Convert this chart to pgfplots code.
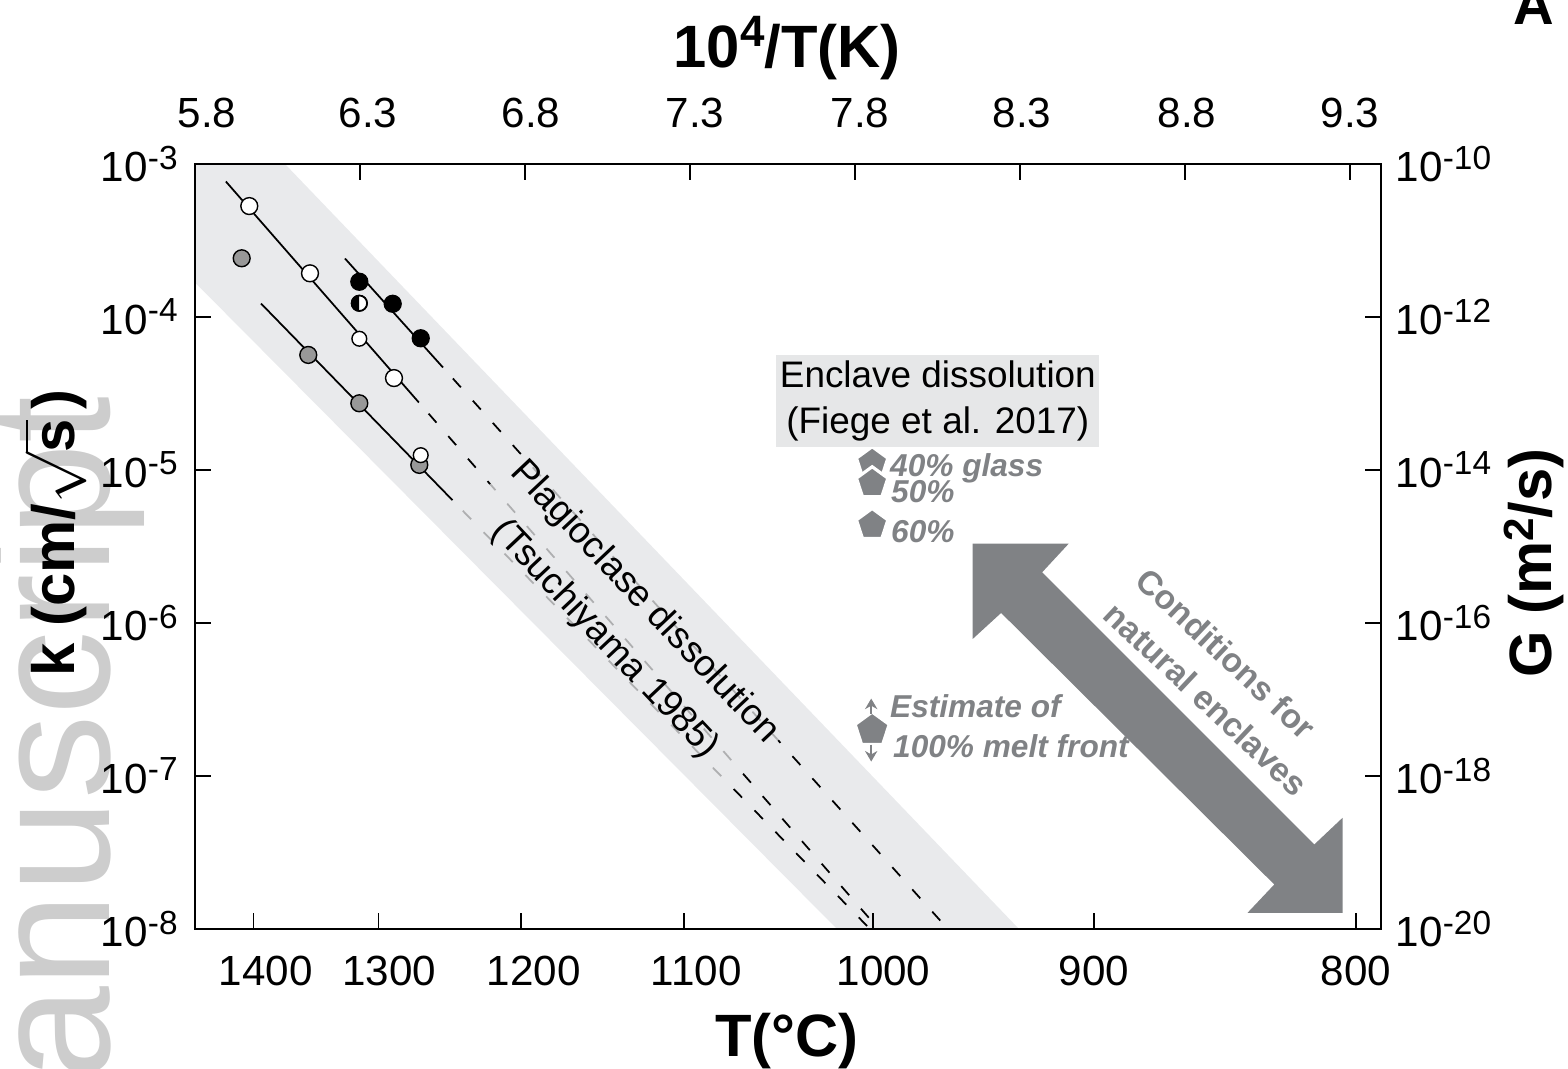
\documentclass[border=0pt]{standalone}
\usepackage{fontspec}
\setmainfont{Liberation Sans}
\usepackage{pgfplots}
\pgfplotsset{compat=1.18}
\usetikzlibrary{arrows.meta}
\definecolor{band}{HTML}{E9EAEC}
\definecolor{boxgray}{HTML}{E6E7E8}
\definecolor{mgray}{HTML}{808285}
\definecolor{dotgray}{HTML}{989898}
\definecolor{wmark}{HTML}{CDCDCD}
\newcommand{\sx}[1]{\raisebox{3.6pt}{\fontsize{9.5}{9.5}\selectfont #1}}
\newcommand{\tk}{\fontsize{12}{14}\selectfont}
\newcommand{\lb}{\fontsize{17}{20}\selectfont\bfseries}
\newcommand{\sh}[2]{\hspace{#1}#2}
\tikzset{
  fitline/.style={black,line width=0.5pt},
  extline/.style={black,line width=0.5pt,dash pattern=on 3.4pt off 5.1pt,dash phase=4.3pt},
  dot/.style={only marks,mark=*,mark options={draw=black,line width=0.5pt}},
}

\begin{document}
\begin{tikzpicture}
% watermark, image pixel coordinates (axis box = 195..1381 x 164..929)
\begin{scope}[x=0.01cm,y=-0.01cm,shift={(-1.95cm,9.29cm)}]
  \node[rotate=90,anchor=base east,text=wmark,inner sep=0pt,font=\fontsize{48}{48}\selectfont] at (110,396) {Manuscript};
\end{scope}

\begin{axis}[
  scale only axis, width=11.86cm, height=7.65cm,
  xmin=5.8, xmax=9.394, ymode=log, ymin=1e-8, ymax=1e-3,
  axis on top, clip=true,
  axis line style={line width=0.8pt},
  tick style={line width=0.45pt,black},
  major tick length=4.5pt, tick align=inside,
  xtick pos=bottom, ytick pos=left,
  xminorticks=false, yminorticks=false,
  xtick={5.97675,6.35668,6.78818,7.28252,7.85453,8.52406,9.31836},
  xticklabels={\sh{2.5mm}{1400},\sh{2.1mm}{1300},\sh{2.5mm}{1200},\sh{2.4mm}{1100},\sh{2.1mm}{1000},900,800},
  ytick={1e-3,1e-4,1e-5,1e-6,1e-7,1e-8},
  yticklabels={10\sx{-3},10\sx{-4},10\sx{-5},10\sx{-6},10\sx{-7},10\sx{-8}},
  tick label style={font=\tk},
  xticklabel style={yshift=-1.5mm},
  yticklabel style={xshift=-0.5mm},
  xlabel={T(\textdegree C)},
  xlabel style={font=\lb,at={(axis description cs:0.4992,-0.1673)},anchor=base},
  ylabel={k (cm/$\sqrt{\mbox{\bfseries s}}$\,)},
  ylabel style={font=\lb,at={(axis description cs:-0.118,0.5176)},anchor=center},
]
% Tsuchiyama (1985) field
\addplot[fill=band,draw=none] coordinates {(5.8,1e-3) (6.0727,1e-3) (8.297,1e-8) (7.7455,1e-8) (5.8,1.68e-4)} -- cycle;

% Arrhenius fits, solid over the data, dashed beyond
\addplot[fitline] coordinates {(5.8936,7.685e-4) (6.4785,2.761e-5)};
\addplot[extline] coordinates {(6.4785,2.761e-5) (7.8718,1e-8)};
\addplot[fitline] coordinates {(6.0,1.225e-4) (6.5803,6.35e-6)};
\addplot[extline] coordinates {(6.5803,6.35e-6) (7.8455,1e-8)};
\addplot[fitline] coordinates {(6.2545,2.412e-4) (6.5515,4.677e-5)};
\addplot[extline] coordinates {(6.5515,4.677e-5) (8.0636,1.103e-8)};

% experiments
\addplot[dot,mark size=2.4pt,mark options={fill=dotgray}] coordinates {(5.9415,2.42e-4) (6.1433,5.65e-5) (6.2980,2.73e-5) (6.4797,1.08e-5)};
\addplot[dot,mark size=2.4pt,mark options={fill=white}] coordinates {(5.9645,5.31e-4) (6.1485,1.93e-4) (6.4030,3.99e-5)};
\addplot[dot,mark size=2.1pt,mark options={fill=white}] coordinates {(6.2980,7.21e-5) (6.4840,1.25e-5)};
\addplot[dot,mark size=2.4pt,mark options={fill=black}] coordinates {(6.2980,1.70e-4) (6.3991,1.22e-4) (6.4840,7.26e-5)};
\addplot[dot,mark size=2.2pt,mark options={fill=white}] coordinates {(6.2980,1.23e-4)};
\addplot[only marks,mark=halfcircle*,mark size=2.2pt,mark options={draw=black,fill=black,line width=0.5pt,rotate=90}] coordinates {(6.2980,1.23e-4)};

% Fiege et al. (2017)
\addplot[only marks,mark=pentagon*,mark size=4.7pt,mark options={fill=mgray,draw=white,line width=0.9pt}] coordinates {(7.852,1.107e-5) (7.852,8.19e-6) (7.852,4.37e-6)};
\addplot[only marks,mark=pentagon*,mark size=5.1pt,mark options={fill=mgray,draw=white,line width=0.9pt}] coordinates {(7.852,2.0e-7)};
\end{axis}

\begin{axis}[
  scale only axis, width=11.86cm, height=7.65cm,
  xmin=5.8, xmax=9.394, ymode=log, ymin=1e-20, ymax=1e-10,
  axis x line*=top, axis y line*=right,
  axis line style={line width=0.8pt},
  tick style={line width=0.45pt,black},
  major tick length=4.5pt, tick align=inside,
  xminorticks=false, yminorticks=false,
  xtick={5.8,6.3,6.8,7.3,7.8,8.3,8.8,9.3},
  xticklabels={\sh{2.4mm}{5.8},\sh{1.6mm}{6.3},\sh{1.2mm}{6.8},\sh{1mm}{7.3},\sh{1mm}{7.8},\sh{0.4mm}{8.3},\sh{0.4mm}{8.8},9.3},
  ytick={1e-10,1e-12,1e-14,1e-16,1e-18,1e-20},
  yticklabels={10\sx{-10},10\sx{-12},10\sx{-14},10\sx{-16},10\sx{-18},10\sx{-20}},
  tick label style={font=\tk},
  xticklabel style={yshift=2.4mm},
  yticklabel style={xshift=0.25mm},
  xlabel={10\raisebox{6pt}{\fontsize{12.5}{12.5}\selectfont 4}/T(K)},
  xlabel style={font=\lb,at={(axis description cs:0.4992,1.1255)},anchor=base},
  ylabel={G (m\raisebox{5pt}{\fontsize{12}{12}\selectfont 2}/s)},
  ylabel style={font=\lb,at={(axis description cs:1.129,0.4784)},anchor=center},
]
\addplot[draw=none] coordinates {(6,1e-15)};
\end{axis}

% annotations, image pixel coordinates
\begin{scope}[x=0.01cm,y=-0.01cm,shift={(-1.95cm,9.29cm)}]
  \node[rotate=-46.7,align=center,font=\fontsize{10.5}{15.5}\selectfont,
        fill=band,fill opacity=0.75,text opacity=1,inner sep=1.5pt] at (625,621.5)
        {Plagioclase dissolution\\(Tsuchiyama 1985)};
  \node[fill=boxgray,minimum width=3.23cm,minimum height=0.92cm,align=center,inner sep=0pt,
        font=\fontsize{10.5}{13.1}\selectfont] at (938.4,400.9)
        {Enclave dissolution\\(Fiege et al. 2017)};
  \begin{scope}[every node/.style={text=mgray,anchor=base west,inner sep=0pt,
        font=\fontsize{9}{10}\selectfont\bfseries\itshape}]
    \node at (890,477) {40\% glass};
    \node at (891,503) {50\%};
    \node at (891,543) {60\%};
    \node at (890,718) {Estimate of};
    \node at (893,758) {100\% melt front};
  \end{scope}
  \draw[mgray,line width=0.5pt,-{Stealth[length=3pt,width=3.5pt]}] (871.7,714) -- (871.7,699);
  \draw[mgray,line width=0.5pt,-{Stealth[length=3pt,width=3.5pt]}] (871.7,745) -- (871.7,762);
  \fill[mgray] (973.3,544) -- (1069.3,544) -- (1042.7,572.7) -- (1315,845) -- (1343.3,818.3)
     -- (1343.3,913.3) -- (1248.3,913.3) -- (1275,885) -- (1001.7,613.3) -- (973.3,639.3) -- cycle;
  \begin{scope}[every node/.style={rotate=-43.3,anchor=base west,inner sep=0pt,text=mgray,
        font=\fontsize{9.6}{12}\selectfont\bfseries}]
    \node at (1134,583) {Conditions for};
    \node at (1102,617) {natural enclaves};
  \end{scope}
  \node[anchor=base west,inner sep=0pt,font=\fontsize{16}{16}\selectfont\bfseries] at (1514,25) {A};
\end{scope}

\pgfresetboundingbox
\useasboundingbox (-1.95cm,-1.40cm) rectangle (13.73cm,9.29cm);
\end{tikzpicture}
\end{document}
